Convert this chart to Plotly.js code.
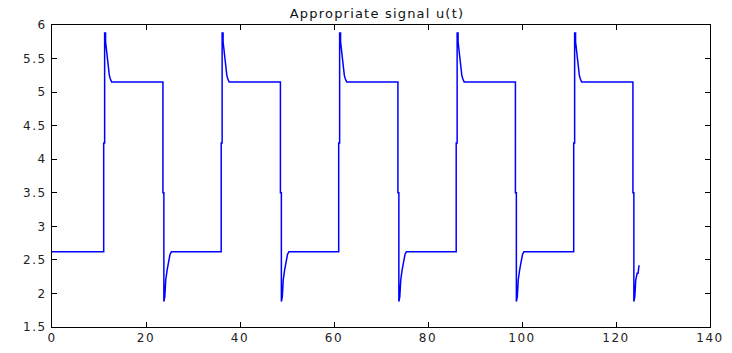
<!DOCTYPE html>
<html>
<head>
<meta charset="utf-8">
<script src="https://cdn.plot.ly/plotly-3.0.1.min.js"></script>
<style>
html,body{margin:0;padding:0;background:#fff;}
#chart{width:732px;height:353px;}
#chart .xtick text, #chart .ytick text{letter-spacing:1.5px;}
#chart .gtitle{letter-spacing:1.2px;}
</style>
</head>
<body>
<div id="chart"></div>
<script>
var timeValues = [
  0, 11.0, 11.0, 11.2, 11.2, 11.4, 11.4, 11.6, 11.8, 12.0, 12.2, 12.4, 12.7,
  23.6, 23.6, 23.8, 23.8, 24.0, 24.2, 24.5, 24.8, 25.1, 25.4,
  36.0, 36.0, 36.2, 36.2, 36.4, 36.4, 36.6, 36.8, 37.0, 37.2, 37.4, 37.7,
  48.6, 48.6, 48.8, 48.8, 49.0, 49.2, 49.5, 49.8, 50.1, 50.4,
  61.0, 61.0, 61.2, 61.2, 61.4, 61.4, 61.6, 61.8, 62.0, 62.2, 62.4, 62.7,
  73.6, 73.6, 73.8, 73.8, 74.0, 74.2, 74.5, 74.8, 75.1, 75.4,
  86.0, 86.0, 86.2, 86.2, 86.4, 86.4, 86.6, 86.8, 87.0, 87.2, 87.4, 87.7,
  98.6, 98.6, 98.8, 98.8, 99.0, 99.2, 99.5, 99.8, 100.1, 100.4,
  111.0, 111.0, 111.2, 111.2, 111.4, 111.4, 111.6, 111.8, 112.0, 112.2, 112.4, 112.7,
  123.6, 123.6, 123.8, 123.8, 124.0, 124.2, 124.5, 124.7, 124.9
];
var signalValues = [
  2.62, 2.62, 4.24, 4.24, 5.88, 5.88, 5.75, 5.62, 5.45, 5.35, 5.25, 5.20, 5.15,
  5.15, 3.50, 3.50, 1.88, 1.95, 2.20, 2.35, 2.50, 2.58, 2.62,
  2.62, 4.24, 4.24, 5.88, 5.88, 5.75, 5.62, 5.45, 5.35, 5.25, 5.20, 5.15,
  5.15, 3.50, 3.50, 1.88, 1.95, 2.20, 2.35, 2.50, 2.58, 2.62,
  2.62, 4.24, 4.24, 5.88, 5.88, 5.75, 5.62, 5.45, 5.35, 5.25, 5.20, 5.15,
  5.15, 3.50, 3.50, 1.88, 1.95, 2.20, 2.35, 2.50, 2.58, 2.62,
  2.62, 4.24, 4.24, 5.88, 5.88, 5.75, 5.62, 5.45, 5.35, 5.25, 5.20, 5.15,
  5.15, 3.50, 3.50, 1.88, 1.95, 2.20, 2.35, 2.50, 2.58, 2.62,
  2.62, 4.24, 4.24, 5.88, 5.88, 5.75, 5.62, 5.45, 5.35, 5.25, 5.20, 5.15,
  5.15, 3.50, 3.50, 1.88, 1.95, 2.20, 2.30, 2.30, 2.42
];
var xTicks = [0, 20, 40, 60, 80, 100, 120, 140];
var yTicks = [1.5, 2, 2.5, 3, 3.5, 4, 4.5, 5, 5.5, 6];
var chartTitle = 'Appropriate signal u(t)';

var axisCommon = {
  showgrid: false, zeroline: false, showline: true, linecolor: '#000', linewidth: 1,
  mirror: 'ticks', ticks: 'inside', ticklen: 5, tickcolor: '#000', tickwidth: 1,
  tickfont: {family: 'DejaVu Sans, Liberation Sans, sans-serif', size: 12, color: '#222'}
};

var trace = {
  x: timeValues, y: signalValues, type: 'scatter', mode: 'lines',
  line: {color: '#0000ff', width: 1.5, shape: 'linear'}, hoverinfo: 'skip'
};

var layout = {
  width: 732, height: 353,
  margin: {l: 52, r: 22, t: 25, b: 26},
  paper_bgcolor: '#fff', plot_bgcolor: '#fff',
  showlegend: false,
  title: {text: chartTitle, x: 0.515, xanchor: 'center', y: 0.975, yanchor: 'top',
    font: {family: 'DejaVu Sans, Liberation Sans, sans-serif', size: 13, color: '#111'}},
  xaxis: Object.assign({}, axisCommon, {range: [0, 140], tickvals: xTicks, ticktext: xTicks.map(String)}),
  yaxis: Object.assign({}, axisCommon, {range: [1.5, 6], tickvals: yTicks, ticktext: yTicks.map(String), ticklabelstandoff: 2})
};

Plotly.newPlot('chart', [trace], layout, {staticPlot: true, displayModeBar: false});
</script>
</body>
</html>
